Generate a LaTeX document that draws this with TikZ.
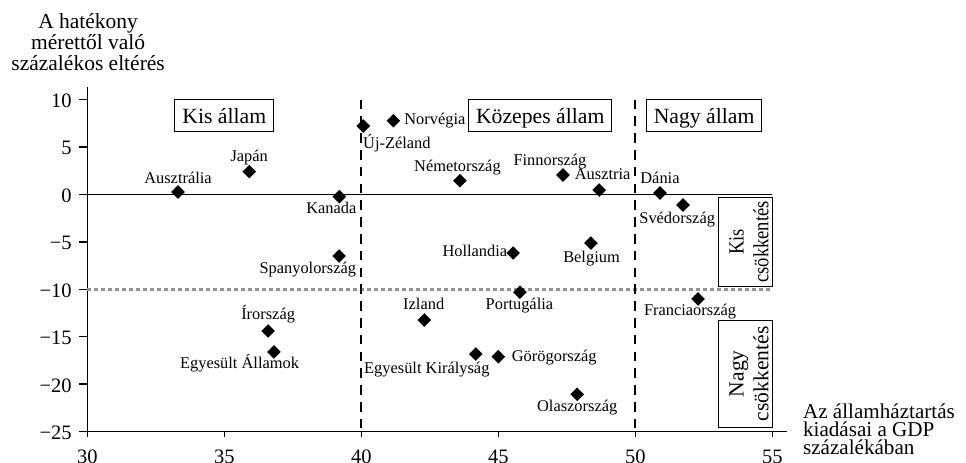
\documentclass[tikz,border=0pt]{standalone}
\usepackage{fontspec}
\setmainfont{Liberation Serif}
\usetikzlibrary{positioning,shapes.geometric}

\begin{document}
\begin{tikzpicture}[
  x=13.7pt, y=4.74pt,
  font=\fontsize{8.2}{9}\selectfont,
  axisline/.style={line width=0.7pt},
  dot/.style={diamond, fill=black, inner sep=0pt, minimum width=7pt, minimum height=7pt},
  lbl/.style={inner sep=0pt, text height=6pt, text depth=1.5pt},
  ticklbl/.style={font=\fontsize{10.25}{11}\selectfont, inner sep=0pt},
  title/.style={inner sep=0pt},
  sizebox/.style={draw, line width=0.5pt, font=\fontsize{10.85}{12}\selectfont, inner xsep=3.8pt, inner ysep=0pt, minimum height=16pt, text height=8pt, text depth=0pt},
  cutbox/.style={draw, line width=0.5pt, font=\fontsize{10.8}{12.3}\selectfont, align=center, rotate=90, inner sep=0pt, minimum width=53.65pt, minimum height=27.2pt, text height=22.8pt, text depth=0pt},
  border/.style={line width=1pt, dash pattern=on 4.8pt off 3.6pt},
  limit/.style={gray!85, line width=1.5pt, dash pattern=on 1.7pt off 1.8pt}
]
\useasboundingbox (26.814,-28.32) rectangle (62.07,20.517);

% axes
\draw[axisline] (30,11.35) -- (30,-25) -- (55.53,-25);
\foreach \v/\t in {10/10,5/5,0/0,-5/−5,-10/−10,-15/−15,-20/−20,-25/−25} {
  \draw[axisline] (30,\v) -- ++(-4.35pt,0);
  \node[ticklbl, anchor=east, xshift=-7.65pt, yshift=-0.6pt] (yl\v) at (30,\v) {\t};
}
\foreach \v in {30,35,...,55} {
  \draw[axisline] (\v,-25) -- ++(0,-3pt);
  \node[ticklbl, anchor=north, yshift=-8.85pt] (xl\v) at (\v,-25) {\v};
}
\draw[axisline] (30,0) -- (55,0);
\draw[limit] (30,-10) -- (55,-10);
\draw[border] (40,10) -- (40,-25);
\draw[border] (50,10) -- (50,-25);

\node[title, anchor=south, align=center, font=\fontsize{10.75}{10.35}\selectfont] (ytitle) at (30.03,13.06) {A hatékony\\mérettől való\\százalékos eltérés};
\node[title, anchor=south west, align=left, font=\fontsize{10.55}{9}\selectfont] (xtitle) at (56.11,-27.51) {Az államháztartás\\kiadásai a GDP\\százalékában};

% groups
\node[sizebox] (kis) at (35.0,8.28) {Kis állam};
\node[sizebox] (kozepes) at (46.53,8.28) {Közepes állam};
\node[sizebox] (nagy) at (52.51,8.28) {Nagy állam};
\node[cutbox, xscale=0.86, minimum width=52pt] (kiscut) at (54.02,-5.01) {Kis\\csökkentés};
\node[cutbox] (nagycut) at (54.02,-18.9) {Nagy\\csökkentés};

% countries
\node[dot] (aus) at (33.31,0.26) {};
\node[lbl, above=-1.2pt of aus] (ausl) {Ausztrália};
\node[dot] (jap) at (35.91,2.41) {};
\node[lbl, above=-0.4pt of jap] (japl) {Japán};
\node[dot] (kan) at (39.20,-0.23) {};
\node[lbl, below=-1.3pt of kan, xshift=-4pt] (kanl) {Kanada};
\node[dot] (nz) at (40.07,7.23) {};
\node[lbl, below right=3.25pt and -2.05pt of nz] (nzl) {Új-Zéland};
\node[dot] (nor) at (41.17,7.78) {};
\node[lbl, right=1.6pt of nor, yshift=0.45pt] (norl) {Norvégia};
\node[dot] (ger) at (43.60,1.46) {};
\node[lbl, above=-0.6pt of ger, xshift=-1.25pt] (gerl) {Németország};
\node[dot] (fin) at (47.36,2.06) {};
\node[lbl, above=-0.6pt of fin, xshift=-6.5pt] (finl) {Finnország};
\node[dot] (aut) at (48.68,0.47) {};
\node[lbl, above=-0.1pt of aut, xshift=1.75pt] (autl) {Ausztria};
\node[dot] (den) at (50.90,0.16) {};
\node[lbl, above=-0.6pt of den] (denl) {Dánia};
\node[dot] (swe) at (51.74,-1.11) {};
\node[lbl, below=-0.75pt of swe, xshift=-2.9pt] (swel) {Svédország};
\node[dot] (ned) at (45.54,-6.17) {};
\node[lbl, left=-0.95pt of ned, yshift=0.4pt] (nedl) {Hollandia};
\node[dot] (bel) at (48.38,-5.12) {};
\node[lbl, below=-0.25pt of bel, xshift=0.3pt] (bell) {Belgium};
\node[dot] (por) at (45.79,-10.3) {};
\node[lbl, below=-1.3pt of por, xshift=-0.25pt] (porl) {Portugália};
\node[dot] (esp) at (39.19,-6.49) {};
\node[lbl, below=-1.25pt of esp, xshift=-15.65pt] (espl) {Spanyolország};
\node[dot] (irl) at (36.6,-14.4) {};
\node[lbl, above=0.4pt of irl] (irll) {Írország};
\node[dot] (usa) at (36.81,-16.61) {};
\node[lbl, below=-1.75pt of usa, xshift=-17.15pt] (usal) {Egyesült Államok};
\node[dot] (isl) at (42.30,-13.24) {};
\node[lbl, above=-0.1pt of isl, xshift=-0.3pt] (isll) {Izland};
\node[dot] (gbr) at (44.18,-16.83) {};
\node[lbl, below=-0.25pt of gbr, xshift=-24.5pt] (gbrl) {Egyesült Királyság};
\node[dot] (gre) at (45.0,-17.11) {};
\node[lbl, right=2.9pt of gre, yshift=-0.25pt] (grel) {Görögország};
\node[dot] (ita) at (47.88,-21.08) {};
\node[lbl, below=-1.4pt of ita] (ital) {Olaszország};
\node[dot] (fra) at (52.29,-11.02) {};
\node[lbl, below=-1.6pt of fra, xshift=-4pt] (fral) {Franciaország};

\end{tikzpicture}
\end{document}
